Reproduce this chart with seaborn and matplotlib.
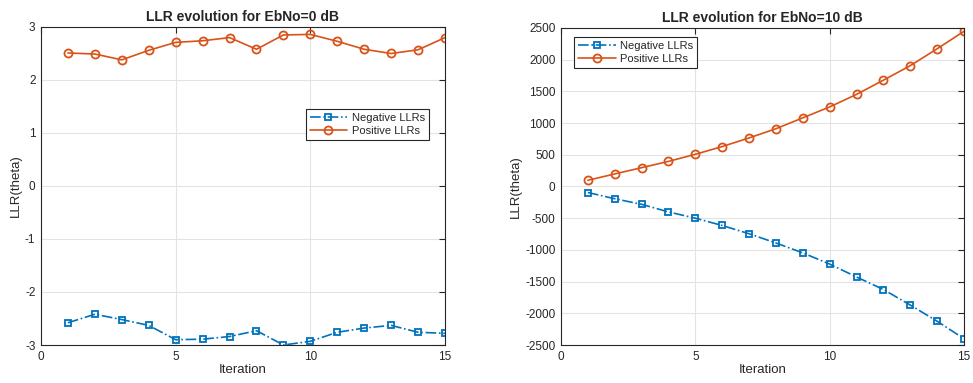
import matplotlib
matplotlib.use("Agg")
import matplotlib.pyplot as plt
from matplotlib.lines import Line2D
import seaborn as sns
import pandas as pd

iterations = list(range(1, 16))

neg_0db = [-2.58, -2.42, -2.52, -2.63, -2.90, -2.89, -2.84, -2.73, -3.00, -2.93,
           -2.76, -2.68, -2.63, -2.76, -2.78]
pos_0db = [2.51, 2.49, 2.38, 2.56, 2.71, 2.74, 2.80, 2.58, 2.85, 2.86,
           2.73, 2.58, 2.50, 2.57, 2.80]

neg_10db = [-95, -193, -281, -401, -500, -615, -745, -891, -1047, -1224,
            -1427, -1625, -1870, -2125, -2401]
pos_10db = [98, 198, 297, 396, 508, 630, 766, 911, 1083, 1255,
            1453, 1677, 1906, 2172, 2448]

series_names = ["Negative LLRs", "Positive LLRs"]
titles = ["LLR evolution for EbNo=0 dB", "LLR evolution for EbNo=10 dB"]

sns.set_theme(style="white")
plt.rcParams["font.family"] = ["Liberation Sans", "DejaVu Sans"]
plt.rcParams["axes.unicode_minus"] = False

BLUE = "#0072BD"
ORANGE = "#D95319"
INK = "#262626"

fig = plt.figure(figsize=(9.73, 3.83), dpi=100)
ax1 = fig.add_axes([41 / 973, 1 - 345 / 383, 404 / 973, 318 / 383])
ax2 = fig.add_axes([561 / 973, 1 - 345 / 383, 403 / 973, 317 / 383])

neg_style = dict(color=BLUE, linestyle="-.", linewidth=1.2, marker="s",
                 markersize=4.8, markerfacecolor="none", markeredgecolor=BLUE,
                 markeredgewidth=1.3)
pos_style = dict(color=ORANGE, linestyle="-", linewidth=1.2, marker="o",
                 markersize=5.8, markerfacecolor="none", markeredgecolor=ORANGE,
                 markeredgewidth=1.3)


def draw(ax, neg, pos, title, ylim, yticks, legend_loc):
    df = pd.DataFrame({"Iteration": iterations, "neg": neg, "pos": pos})
    sns.lineplot(data=df, x="Iteration", y="neg", ax=ax, legend=False, **neg_style)
    sns.lineplot(data=df, x="Iteration", y="pos", ax=ax, legend=False, **pos_style)
    ax.set_xlim(0, 15)
    ax.set_ylim(*ylim)
    ax.set_xticks([0, 5, 10, 15])
    ax.set_yticks(yticks)
    ax.grid(True, color="#E3E3E3", linewidth=0.8)
    ax.set_axisbelow(True)
    for s in ax.spines.values():
        s.set_color(INK)
        s.set_linewidth(0.8)
    ax.tick_params(direction="in", length=4, width=0.8, colors=INK,
                   labelsize=8.5, top=True, right=True, labelcolor=INK, pad=4)
    ax.set_title(title, fontsize=10, fontweight="bold", pad=4)
    ax.set_xlabel("Iteration", fontsize=9.5, color=INK, labelpad=1)
    ax.set_ylabel("LLR(theta)", fontsize=9.5, color=INK, labelpad=2)
    handles = [Line2D([], [], **neg_style), Line2D([], [], **pos_style)]
    leg = ax.legend(handles, series_names, loc=legend_loc, fontsize=8,
                    frameon=True, fancybox=False, edgecolor=INK, framealpha=1,
                    handlelength=3.4, borderpad=0.35, labelspacing=0.25,
                    handletextpad=0.4, borderaxespad=0)
    leg.get_frame().set_linewidth(0.8)
    return leg


draw(ax1, neg_0db, pos_0db, titles[0], (-3, 3), [-3, -2, -1, 0, 1, 2, 3],
     (0.655, 0.645))
draw(ax2, neg_10db, pos_10db, titles[1], (-2500, 2500),
     list(range(-2500, 2501, 500)), (0.032, 0.875))

fig.savefig("out.png", dpi=100)
